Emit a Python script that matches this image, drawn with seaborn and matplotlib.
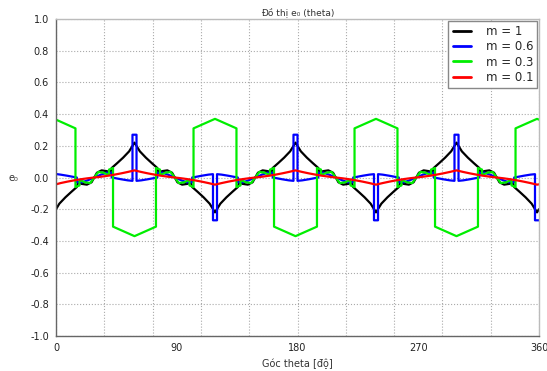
import matplotlib
matplotlib.use("Agg")
import matplotlib.pyplot as plt
import seaborn as sns

# values (theta in degrees, e0)
black_theta = [0, 2.5, 7, 11.5, 15.5, 16.5, 19, 23, 26.5, 28.5, 30.5, 34, 38, 40.5, 41.5, 45.5, 50, 54.5,
               58.5, 62.5, 67, 71.5, 75.5, 76.5, 79, 83, 86.5, 88.5, 90.5, 94, 98, 100.5, 101.5, 105.5, 110, 114.5,
               118.5, 122.5, 127, 131.5, 135.5, 136.5, 139, 143, 146.5, 148.5, 150.5, 154, 158, 160.5, 161.5, 165.5,
               170, 174.5, 178.5, 182.5, 187, 191.5, 195.5, 196.5, 199, 203, 206.5, 208.5, 210.5, 214, 218, 220.5,
               221.5, 225.5, 230, 234.5, 238.5, 242.5, 247, 251.5, 255.5, 256.5, 259, 263, 266.5, 268.5, 270.5, 274,
               278, 280.5, 281.5, 285.5, 290, 294.5, 298.5, 302.5, 307, 311.5, 315.5, 316.5, 319, 323, 326.5, 328.5,
               330.5, 334, 338, 340.5, 341.5, 345.5, 350, 354.5, 358.5, 360]
black_e0 = [-0.200, -0.165, -0.125, -0.090, -0.060, -0.030, -0.040, -0.045, -0.030, 0.000, 0.030, 0.045, 0.040,
            0.030, 0.060, 0.090, 0.125, 0.165, 0.220, 0.165, 0.125, 0.090, 0.060, 0.030, 0.040, 0.045, 0.030, 0.000,
            -0.030, -0.045, -0.040, -0.030, -0.060, -0.090, -0.125, -0.165, -0.220,
            -0.165, -0.125, -0.090, -0.060, -0.030, -0.040, -0.045, -0.030, 0.000, 0.030, 0.045, 0.040,
            0.030, 0.060, 0.090, 0.125, 0.165, 0.220, 0.165, 0.125, 0.090, 0.060, 0.030, 0.040, 0.045, 0.030, 0.000,
            -0.030, -0.045, -0.040, -0.030, -0.060, -0.090, -0.125, -0.165, -0.220,
            -0.165, -0.125, -0.090, -0.060, -0.030, -0.040, -0.045, -0.030, 0.000, 0.030, 0.045, 0.040,
            0.030, 0.060, 0.090, 0.125, 0.165, 0.220, 0.165, 0.125, 0.090, 0.060, 0.030, 0.040, 0.045, 0.030, 0.000,
            -0.030, -0.045, -0.040, -0.030, -0.060, -0.090, -0.125, -0.165, -0.220, -0.200]

blue_theta = [0, 3.5, 8.5, 13.5, 15.5, 15.5, 19.5, 23.5, 28.5, 33.5, 37.5, 41.5, 41.5, 43.5, 48.5, 53.5,
              57, 57, 60, 60, 63.5, 68.5, 73.5, 75.5, 75.5, 79.5, 83.5, 88.5, 93.5, 97.5, 101.5, 101.5, 103.5,
              108.5, 113.5, 117, 117, 120, 120, 123.5, 128.5, 133.5, 135.5, 135.5, 139.5, 143.5, 148.5, 153.5,
              157.5, 161.5, 161.5, 163.5, 168.5, 173.5, 177, 177, 180, 180, 183.5, 188.5, 193.5, 195.5, 195.5,
              199.5, 203.5, 208.5, 213.5, 217.5, 221.5, 221.5, 223.5, 228.5, 233.5, 237, 237, 240, 240, 243.5,
              248.5, 253.5, 255.5, 255.5, 259.5, 263.5, 268.5, 273.5, 277.5, 281.5, 281.5, 283.5, 288.5, 293.5,
              297, 297, 300, 300, 303.5, 308.5, 313.5, 315.5, 315.5, 319.5, 323.5, 328.5, 333.5, 337.5, 341.5,
              341.5, 343.5, 348.5, 353.5, 357, 357, 360]
blue_e0 = [0.022, 0.018, 0.011, 0.003, 0.0, -0.03, -0.03, -0.018, 0.0, 0.018, 0.03, 0.03, 0.0, -0.003, -0.011,
           -0.018, -0.021, 0.27, 0.27, -0.021, -0.018, -0.011, -0.003, 0.0, 0.03, 0.03, 0.018, 0.0, -0.018, -0.03,
           -0.03, 0.0, 0.003, 0.011, 0.018, 0.021, -0.27, -0.27, 0.021, 0.018, 0.011, 0.003, 0.0, -0.03, -0.03,
           -0.018, 0.0, 0.018, 0.03, 0.03, 0.0, -0.003, -0.011, -0.018, -0.021, 0.27, 0.27, -0.021, -0.018, -0.011,
           -0.003, 0.0, 0.03, 0.03, 0.018, 0.0, -0.018, -0.03, -0.03, 0.0, 0.003, 0.011, 0.018, 0.021, -0.27, -0.27,
           0.021, 0.018, 0.011, 0.003, 0.0, -0.03, -0.03, -0.018, 0.0, 0.018, 0.03, 0.03, 0.0, -0.003, -0.011,
           -0.018, -0.021, 0.27, 0.27, -0.021, -0.018, -0.011, -0.003, 0.0, 0.03, 0.03, 0.018, 0.0, -0.018, -0.03,
           -0.03, 0.0, 0.003, 0.011, 0.018, 0.021, -0.27, -0.27]

green_theta = [0, 14.5, 14.5, 17.5, 17.5, 21.5, 25.5, 28.5, 31.5, 35.5, 39.5, 39.5, 42.5, 42.5, 58.5, 74.5,
               74.5, 77.5, 77.5, 81.5, 85.5, 88.5, 91.5, 95.5, 99.5, 99.5, 102.5, 102.5, 118.5, 134.5,
               134.5, 137.5, 137.5, 141.5, 145.5, 148.5, 151.5, 155.5, 159.5, 159.5, 162.5, 162.5, 178.5, 194.5,
               194.5, 197.5, 197.5, 201.5, 205.5, 208.5, 211.5, 215.5, 219.5, 219.5, 222.5, 222.5, 238.5, 254.5,
               254.5, 257.5, 257.5, 261.5, 265.5, 268.5, 271.5, 275.5, 279.5, 279.5, 282.5, 282.5, 298.5, 314.5,
               314.5, 317.5, 317.5, 321.5, 325.5, 328.5, 331.5, 335.5, 339.5, 339.5, 342.5, 342.5, 358.5, 360]
green_e0 = [0.365, 0.31, -0.06, -0.05, -0.015, -0.03, -0.035, 0.0, 0.035, 0.03, 0.015, 0.05, 0.06, -0.31, -0.37,
            -0.31, 0.06, 0.05, 0.015, 0.03, 0.035, 0.0, -0.035, -0.03, -0.015, -0.05, -0.06, 0.31, 0.37, 0.31,
            -0.06, -0.05, -0.015, -0.03, -0.035, 0.0, 0.035, 0.03, 0.015, 0.05, 0.06, -0.31, -0.37, -0.31,
            0.06, 0.05, 0.015, 0.03, 0.035, 0.0, -0.035, -0.03, -0.015, -0.05, -0.06, 0.31, 0.37, 0.31,
            -0.06, -0.05, -0.015, -0.03, -0.035, 0.0, 0.035, 0.03, 0.015, 0.05, 0.06, -0.31, -0.37, -0.31,
            0.06, 0.05, 0.015, 0.03, 0.035, 0.0, -0.035, -0.03, -0.015, -0.05, -0.06, 0.31, 0.37, 0.365]

red_theta = [0, 3.5, 8.5, 13.5, 18.5, 23.5, 28.5, 33.5, 38.5, 43.5, 48.5, 53.5, 58.5, 63.5, 68.5, 73.5, 78.5,
             83.5, 88.5, 93.5, 98.5, 103.5, 108.5, 113.5, 118.5, 123.5, 128.5, 133.5, 138.5, 143.5, 148.5, 153.5,
             158.5, 163.5, 168.5, 173.5, 178.5, 183.5, 188.5, 193.5, 198.5, 203.5, 208.5, 213.5, 218.5, 223.5,
             228.5, 233.5, 238.5, 243.5, 248.5, 253.5, 258.5, 263.5, 268.5, 273.5, 278.5, 283.5, 288.5, 293.5,
             298.5, 303.5, 308.5, 313.5, 318.5, 323.5, 328.5, 333.5, 338.5, 343.5, 348.5, 353.5, 358.5, 360]
red_e0 = [-0.043, -0.035, -0.026, -0.018, -0.011, -0.005, 0.0, 0.005, 0.011, 0.018, 0.026, 0.035, 0.045,
          0.035, 0.026, 0.018, 0.011, 0.005, 0.0, -0.005, -0.011, -0.018, -0.026, -0.035, -0.045,
          -0.035, -0.026, -0.018, -0.011, -0.005, 0.0, 0.005, 0.011, 0.018, 0.026, 0.035, 0.045,
          0.035, 0.026, 0.018, 0.011, 0.005, 0.0, -0.005, -0.011, -0.018, -0.026, -0.035, -0.045,
          -0.035, -0.026, -0.018, -0.011, -0.005, 0.0, 0.005, 0.011, 0.018, 0.026, 0.035, 0.045,
          0.035, 0.026, 0.018, 0.011, 0.005, 0.0, -0.005, -0.011, -0.018, -0.026, -0.035, -0.045, -0.043]

series = [
    ("m = 1", black_theta, black_e0, "black"),
    ("m = 0.6", blue_theta, blue_e0, "#0000ff"),
    ("m = 0.3", green_theta, green_e0, "#00ee00"),
    ("m = 0.1", red_theta, red_e0, "#ff0000"),
]

sns.set_style("whitegrid")
plt.rcParams["font.family"] = ["DejaVu Sans"]
plt.rcParams["axes.unicode_minus"] = False

fig, ax = plt.subplots(figsize=(5.47, 3.71), dpi=100)
fig.subplots_adjust(left=0.1024, right=0.9854, top=0.9488, bottom=0.0943)

for label, th, e0, col in series:
    sns.lineplot(x=th, y=e0, ax=ax, color=col, lw=1.6, label=label,
                 estimator=None, sort=False)

ax.set_xlim(0, 360)
ax.set_ylim(-1.0, 1.0)

# grid every 36 deg, labels every 90 deg
ax.xaxis.remove_overlapping_locs = False
ax.set_xticks([0, 36, 72, 108, 144, 180, 216, 252, 288, 324, 360])
ax.set_xticklabels([])
ax.set_xticks([0, 90, 180, 270, 360], minor=True)
ax.set_xticklabels(["0", "90", "180", "270", "360"], minor=True)
ax.tick_params(axis="x", which="minor", length=0, pad=5)
ax.tick_params(axis="x", which="major", length=3, color="#555555", direction="out")
ax.set_yticks([-1.0, -0.8, -0.6, -0.4, -0.2, 0.0, 0.2, 0.4, 0.6, 0.8, 1.0])
ax.set_yticklabels(["-1.0", "-0.8", "-0.6", "-0.4", "-0.2", "0.0", "0.2", "0.4", "0.6", "0.8", "1.0"])
ax.tick_params(axis="y", length=3, color="#555555", pad=2)
ax.tick_params(which="both", labelsize=7, labelcolor="#222222")

ax.grid(which="major", color="#aaaaaa", linestyle=":", linewidth=0.8)
ax.grid(which="minor", visible=False)

for side in ["left", "bottom"]:
    ax.spines[side].set_color("#666666")
    ax.spines[side].set_linewidth(1.0)
for side in ["top", "right"]:
    ax.spines[side].set_color("#bbbbbb")
    ax.spines[side].set_linewidth(1.0)

ax.set_title("Đồ thị e₀ (theta)", fontsize=6.5, color="#333333", pad=3)
ax.set_xlabel("Góc theta [độ]", fontsize=7, color="#333333", labelpad=4)
ax.set_ylabel("e₀", fontsize=7, color="#333333", rotation=0, labelpad=12, va="center")

leg = ax.legend(loc="upper right", fontsize=8.5, frameon=True, fancybox=False,
                framealpha=1, edgecolor="#888888", borderaxespad=0.15,
                handlelength=1.6, labelspacing=0.2, borderpad=0.35, handletextpad=1.2)
for h in leg.get_lines():
    h.set_linewidth(2)

fig.savefig("out.png", dpi=100)
